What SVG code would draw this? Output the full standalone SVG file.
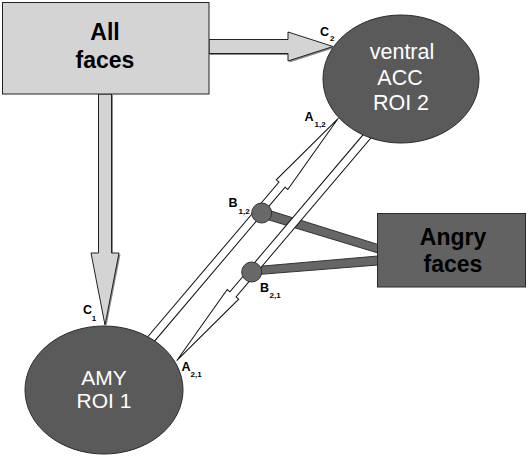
<svg xmlns="http://www.w3.org/2000/svg" width="528" height="457" viewBox="0 0 528 457">
<style>
.lbl{font-family:"Liberation Sans",Arial,sans-serif;font-weight:bold;fill:#000}
.main{font-size:12.5px}
.sub{font-size:8px}
.dark{fill:#5a5a5a;stroke:#2a2a2a;stroke-width:1}
.light{fill:#d4d4d4;stroke:#222;stroke-width:1}
.band{fill:#fff;stroke:#111;stroke-width:1;stroke-linejoin:miter}
.bar{fill:#666;stroke:#333;stroke-width:1}
.dot{fill:#686868;stroke:#333;stroke-width:1}
.wt{font-family:"Liberation Sans",Arial,sans-serif;fill:#fff;font-size:21.5px;text-anchor:middle}
.bt{font-family:"Liberation Sans",Arial,sans-serif;font-weight:bold;fill:#000;font-size:23px;text-anchor:middle}
</style>
<defs>
<polygon id="band" points="0,0 -87,-7.5 -87,-4 -300,-4 -300,4 -87,4 -87,7.5"/>
</defs>
<rect width="528" height="457" fill="#fff"/>
<g id="connectors">
  <!-- All faces -> ventral ACC -->
  <polygon points="210,41 289.5,41 289.5,33.5 334.5,48 289.5,62.5 289.5,55 210,55" fill="#8a8a8a"/>
  <polygon class="light" points="209,39.5 288,39.5 288,32 333,46.5 288,61 288,53.5 209,53.5"/>
  <!-- All faces -> AMY -->
  <polygon points="100,95 113,95 113,254.5 120.5,254.5 106.5,326 93,254.5 100,254.5" fill="#8a8a8a"/>
  <polygon class="light" points="98.5,94 111.5,94 111.5,253 119,253 105,325 91,253 98.5,253"/>
  <!-- Angry faces bars -->
  <polygon class="bar" points="263.2,208.5 378,244.5 378,253 260.8,217.5"/>
  <polygon class="bar" points="251.6,267 378,256 378,265 252.4,275"/>
  <!-- A1,2 : AMY -> ACC -->
  <use href="#band" class="band" transform="translate(338.3,118.3) rotate(-49.7)"/>
  <!-- A2,1 : ACC -> AMY -->
  <use href="#band" class="band" transform="translate(176.7,360.7) rotate(130.3)"/>
  <!-- modulation points -->
  <circle class="dot" cx="261.7" cy="213" r="10"/>
  <circle class="dot" cx="251.7" cy="272" r="10"/>
</g>
<g id="labels">
  <text class="lbl main" x="320" y="35.5">C</text><text class="lbl sub" x="330" y="41">2</text>
  <text class="lbl main" x="304.5" y="120.7">A</text><text class="lbl sub" x="314.5" y="127">1,2</text>
  <text class="lbl main" x="228.5" y="206.7">B</text><text class="lbl sub" x="238.5" y="214">1,2</text>
  <text class="lbl main" x="260" y="291.5">B</text><text class="lbl sub" x="269.5" y="297.5">2,1</text>
  <text class="lbl main" x="181.5" y="370.7">A</text><text class="lbl sub" x="190.5" y="377">2,1</text>
  <text class="lbl main" x="83" y="314">C</text><text class="lbl sub" x="91.7" y="321">1</text>
</g>
<g id="all-faces">
  <rect class="light" x="2.5" y="2.5" width="206.5" height="91.5"/>
  <text class="bt" x="105" y="40">All</text>
  <text class="bt" x="105" y="68">faces</text>
</g>
<g id="ventral-acc">
  <ellipse class="dark" cx="401" cy="79" rx="78" ry="64"/>
  <text class="wt" x="402" y="59.3">ventral</text>
  <text class="wt" x="400" y="85">ACC</text>
  <text class="wt" x="401" y="110">ROI 2</text>
</g>
<g id="amy">
  <ellipse class="dark" cx="104" cy="390" rx="79" ry="64"/>
  <text class="wt" x="104" y="385" style="font-size:21px">AMY</text>
  <text class="wt" x="104" y="408.3" style="font-size:21px">ROI 1</text>
</g>
<g id="angry-faces">
  <rect x="377.5" y="213.5" width="148" height="73.5" fill="#626262" stroke="#2a2a2a" stroke-width="1"/>
  <text class="bt" x="453" y="245">Angry</text>
  <text class="bt" x="453" y="271.7">faces</text>
</g>
</svg>
